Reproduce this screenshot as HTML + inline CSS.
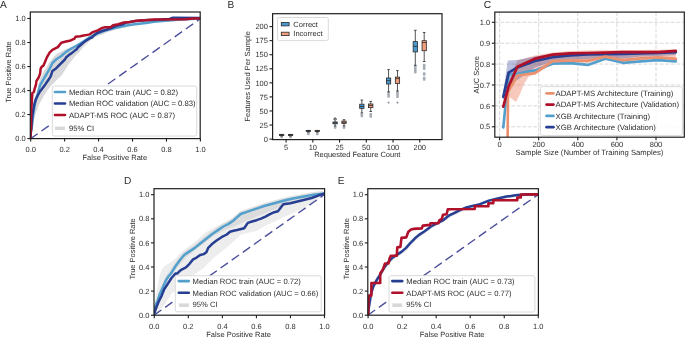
<!DOCTYPE html>
<html><head><meta charset="utf-8"><style>
html,body{margin:0;padding:0;background:#fff;}
body{width:685px;height:338px;overflow:hidden;}
svg{display:block;will-change:transform;text-rendering:geometricPrecision;font-family:"Liberation Sans",sans-serif;}
</style></head><body>
<svg width="685" height="338" viewBox="0 0 685 338">
<rect width="685" height="338" fill="#fff"/>
<text x="-0.10" y="7.60" font-size="10.2" text-anchor="start" fill="#2e2e2e">A</text>
<text x="227.60" y="7.60" font-size="10.2" text-anchor="start" fill="#2e2e2e">B</text>
<text x="483.80" y="7.60" font-size="10.2" text-anchor="start" fill="#2e2e2e">C</text>
<text x="124.00" y="183.80" font-size="10.2" text-anchor="start" fill="#2e2e2e">D</text>
<text x="337.80" y="183.80" font-size="10.2" text-anchor="start" fill="#2e2e2e">E</text>
<defs><clipPath id="clipA"><rect x="30.3" y="12.0" width="169.9" height="126.6"/></clipPath></defs>
<g clip-path="url(#clipA)">
<polygon points="30.30,138.60 30.80,125.00 31.60,114.00 32.80,106.00 34.60,99.00 36.60,93.00 40.00,78.20 44.50,70.50 48.90,63.10 53.00,57.50 57.80,53.30 62.00,51.00 66.60,48.90 71.00,47.00 75.50,45.30 80.00,43.50 84.40,41.80 89.00,39.00 90.10,33.80 98.40,30.70 105.00,28.80 115.00,26.60 125.00,24.60 135.00,23.00 145.00,21.90 155.00,20.80 170.00,19.70 185.00,18.80 200.20,18.40 200.20,18.40 185.00,20.20 170.00,21.40 160.00,22.20 150.00,23.00 135.00,25.00 125.00,27.60 122.00,27.80 117.20,29.30 112.20,30.80 107.10,32.30 102.10,34.40 98.00,35.90 94.40,37.80 90.60,40.60 86.80,43.50 83.00,47.30 79.30,52.00 75.50,55.80 71.70,60.50 67.90,65.20 62.00,75.00 57.80,79.10 54.00,82.70 50.70,86.20 47.00,91.00 43.50,96.50 38.80,105.00 35.80,113.00 33.40,121.00 31.60,130.00 30.30,138.60" fill="#d9d9db" stroke="none"/>
<line x1="30.30" y1="138.90" x2="200.00" y2="19.00" stroke="#4d509b" stroke-width="1.4" stroke-dasharray="9 4.6"/>
<polyline points="30.30,138.60 30.90,132.00 31.70,128.00 33.20,115.00 34.70,104.70 36.00,99.00 37.40,95.00 40.00,85.30 43.60,79.10 46.30,74.50 48.90,70.20 52.40,63.10 56.00,59.50 61.30,56.00 66.00,51.90 70.70,49.03 75.50,46.25 80.20,43.62 84.90,40.56 89.70,37.31 94.40,35.12 96.50,33.80 99.50,32.60 102.40,31.50 105.00,30.50 111.00,29.00 117.20,27.40 120.00,26.90 126.50,25.60 133.00,24.60 139.50,23.70 146.00,23.00 153.80,21.80 168.40,20.60 180.00,19.50 200.20,18.40" fill="none" stroke="#54a0cd" stroke-width="2.5" stroke-linejoin="round" stroke-linecap="round"/>
<polyline points="30.30,138.60 30.80,132.00 31.30,128.00 32.40,115.00 33.90,106.10 35.00,102.00 36.10,98.70 38.00,95.00 40.00,91.50 45.30,84.40 48.00,80.50 50.70,76.40 52.40,71.10 56.00,68.40 59.50,64.90 64.90,59.50 66.00,57.55 68.80,55.06 71.70,53.13 74.50,50.86 76.40,49.49 78.30,47.04 81.20,44.45 84.90,41.35 88.70,38.99 92.50,37.10 93.10,36.10 97.10,33.10 102.10,31.00 107.10,29.50 112.20,27.50 117.20,25.50 122.00,24.50 126.50,22.40 131.10,21.80 136.30,21.10 141.50,20.50 147.30,20.10 153.80,19.89 169.50,19.00 172.40,17.80 200.20,17.90" fill="none" stroke="#263f92" stroke-width="2.5" stroke-linejoin="round" stroke-linecap="round"/>
<polyline points="30.30,138.60 31.00,128.00 31.20,110.00 31.40,107.60 32.40,92.80 33.90,92.10 34.70,88.40 35.60,86.00 36.10,83.90 36.40,81.20 38.70,77.40 40.10,73.60 40.60,68.90 41.80,66.60 43.50,65.60 45.30,61.30 47.10,56.90 49.80,52.40 52.40,49.80 57.80,47.10 61.30,42.70 66.00,41.50 70.70,40.48 74.50,38.71 75.50,36.76 80.20,36.16 84.90,35.35 89.70,34.35 92.90,32.10 97.70,30.30 102.40,27.90 105.00,27.30 110.50,27.30 113.10,25.30 118.30,24.20 123.90,22.40 130.40,21.90 134.30,21.10 139.50,20.60 146.00,20.20 154.00,19.60 186.00,19.20 193.00,18.60 200.20,18.40" fill="none" stroke="#b0102a" stroke-width="2.5" stroke-linejoin="round" stroke-linecap="round"/>
</g>
<rect x="52.30" y="86.00" width="144.40" height="50.00" rx="1.8" ry="1.8" fill="#ffffff" fill-opacity="1" stroke="#d6d6d6" stroke-width="0.9"/>
<line x1="55.00" y1="92.00" x2="65.00" y2="92.00" stroke="#54a0cd" stroke-width="2.6" stroke-linecap="round"/>
<line x1="55.00" y1="103.50" x2="65.00" y2="103.50" stroke="#263f92" stroke-width="2.6" stroke-linecap="round"/>
<line x1="55.00" y1="115.00" x2="65.00" y2="115.00" stroke="#b0102a" stroke-width="2.6" stroke-linecap="round"/>
<rect x="55.1" y="126.6" width="9.8" height="3.5" fill="#d8d8da"/>
<text x="68.90" y="94.70" font-size="7.72" text-anchor="start" fill="#2e2e2e">Median ROC train (AUC = 0.82)</text>
<text x="68.90" y="106.20" font-size="7.72" text-anchor="start" fill="#2e2e2e">Median ROC validation (AUC = 0.83)</text>
<text x="68.90" y="117.70" font-size="7.72" text-anchor="start" fill="#2e2e2e">ADAPT-MS ROC (AUC = 0.87)</text>
<text x="68.90" y="131.10" font-size="7.72" text-anchor="start" fill="#2e2e2e">95% CI</text>
<rect x="30.30" y="12.00" width="169.90" height="126.60" fill="none" stroke="#1e1e1e" stroke-width="1.2"/>
<line x1="27.30" y1="138.60" x2="30.30" y2="138.60" stroke="#1e1e1e" stroke-width="1.1"/>
<text x="25.70" y="141.25" font-size="7.5" text-anchor="end" fill="#2e2e2e">0.0</text>
<line x1="27.30" y1="114.58" x2="30.30" y2="114.58" stroke="#1e1e1e" stroke-width="1.1"/>
<text x="25.70" y="117.23" font-size="7.5" text-anchor="end" fill="#2e2e2e">0.2</text>
<line x1="27.30" y1="90.56" x2="30.30" y2="90.56" stroke="#1e1e1e" stroke-width="1.1"/>
<text x="25.70" y="93.21" font-size="7.5" text-anchor="end" fill="#2e2e2e">0.4</text>
<line x1="27.30" y1="66.54" x2="30.30" y2="66.54" stroke="#1e1e1e" stroke-width="1.1"/>
<text x="25.70" y="69.19" font-size="7.5" text-anchor="end" fill="#2e2e2e">0.6</text>
<line x1="27.30" y1="42.52" x2="30.30" y2="42.52" stroke="#1e1e1e" stroke-width="1.1"/>
<text x="25.70" y="45.17" font-size="7.5" text-anchor="end" fill="#2e2e2e">0.8</text>
<line x1="27.30" y1="18.50" x2="30.30" y2="18.50" stroke="#1e1e1e" stroke-width="1.1"/>
<text x="25.70" y="21.15" font-size="7.5" text-anchor="end" fill="#2e2e2e">1.0</text>
<line x1="30.70" y1="138.60" x2="30.70" y2="141.60" stroke="#1e1e1e" stroke-width="1.1"/>
<text x="30.70" y="151.50" font-size="7.5" text-anchor="middle" fill="#2e2e2e">0.0</text>
<line x1="64.64" y1="138.60" x2="64.64" y2="141.60" stroke="#1e1e1e" stroke-width="1.1"/>
<text x="64.64" y="151.50" font-size="7.5" text-anchor="middle" fill="#2e2e2e">0.2</text>
<line x1="98.58" y1="138.60" x2="98.58" y2="141.60" stroke="#1e1e1e" stroke-width="1.1"/>
<text x="98.58" y="151.50" font-size="7.5" text-anchor="middle" fill="#2e2e2e">0.4</text>
<line x1="132.52" y1="138.60" x2="132.52" y2="141.60" stroke="#1e1e1e" stroke-width="1.1"/>
<text x="132.52" y="151.50" font-size="7.5" text-anchor="middle" fill="#2e2e2e">0.6</text>
<line x1="166.46" y1="138.60" x2="166.46" y2="141.60" stroke="#1e1e1e" stroke-width="1.1"/>
<text x="166.46" y="151.50" font-size="7.5" text-anchor="middle" fill="#2e2e2e">0.8</text>
<line x1="200.40" y1="138.60" x2="200.40" y2="141.60" stroke="#1e1e1e" stroke-width="1.1"/>
<text x="200.40" y="151.50" font-size="7.5" text-anchor="middle" fill="#2e2e2e">1.0</text>
<text x="114.80" y="160.30" font-size="7.5" text-anchor="middle" fill="#2e2e2e">False Positive Rate</text>
<text x="11.40" y="72.00" font-size="7.5" text-anchor="middle" fill="#2e2e2e" transform="rotate(-90 11.4 72.0)">True Positive Rate</text>
<rect x="280.35" y="136.00" width="2.6" height="2.20" fill="#a6acb3" rx="0.8"/>
<line x1="281.65" y1="134.40" x2="281.65" y2="134.40" stroke="#2a2a2a" stroke-width="0.8"/>
<line x1="281.65" y1="135.50" x2="281.65" y2="136.00" stroke="#2a2a2a" stroke-width="0.8"/>
<line x1="280.35" y1="134.40" x2="282.95" y2="134.40" stroke="#2a2a2a" stroke-width="0.8"/>
<line x1="280.35" y1="136.00" x2="282.95" y2="136.00" stroke="#2a2a2a" stroke-width="0.8"/>
<rect x="279.50" y="134.40" width="4.30" height="1.10" fill="#4a9ad0" stroke="#2a2a2a" stroke-width="0.8"/>
<line x1="279.50" y1="135.00" x2="283.80" y2="135.00" stroke="#2a2a2a" stroke-width="0.8"/>
<rect x="289.25" y="136.00" width="2.6" height="2.20" fill="#a6acb3" rx="0.8"/>
<line x1="290.55" y1="134.40" x2="290.55" y2="134.40" stroke="#2a2a2a" stroke-width="0.8"/>
<line x1="290.55" y1="135.50" x2="290.55" y2="136.00" stroke="#2a2a2a" stroke-width="0.8"/>
<line x1="289.25" y1="134.40" x2="291.85" y2="134.40" stroke="#2a2a2a" stroke-width="0.8"/>
<line x1="289.25" y1="136.00" x2="291.85" y2="136.00" stroke="#2a2a2a" stroke-width="0.8"/>
<rect x="288.40" y="134.40" width="4.30" height="1.10" fill="#f29e7c" stroke="#2a2a2a" stroke-width="0.8"/>
<line x1="288.40" y1="135.00" x2="292.70" y2="135.00" stroke="#2a2a2a" stroke-width="0.8"/>
<rect x="307.08" y="132.00" width="2.6" height="3.30" fill="#a6acb3" rx="0.8"/>
<line x1="308.38" y1="130.40" x2="308.38" y2="130.40" stroke="#2a2a2a" stroke-width="0.8"/>
<line x1="308.38" y1="131.50" x2="308.38" y2="132.00" stroke="#2a2a2a" stroke-width="0.8"/>
<line x1="307.08" y1="130.40" x2="309.68" y2="130.40" stroke="#2a2a2a" stroke-width="0.8"/>
<line x1="307.08" y1="132.00" x2="309.68" y2="132.00" stroke="#2a2a2a" stroke-width="0.8"/>
<rect x="306.23" y="130.40" width="4.30" height="1.10" fill="#4a9ad0" stroke="#2a2a2a" stroke-width="0.8"/>
<line x1="306.23" y1="131.00" x2="310.53" y2="131.00" stroke="#2a2a2a" stroke-width="0.8"/>
<rect x="315.98" y="132.00" width="2.6" height="3.30" fill="#a6acb3" rx="0.8"/>
<line x1="317.28" y1="130.40" x2="317.28" y2="130.40" stroke="#2a2a2a" stroke-width="0.8"/>
<line x1="317.28" y1="131.50" x2="317.28" y2="132.00" stroke="#2a2a2a" stroke-width="0.8"/>
<line x1="315.98" y1="130.40" x2="318.58" y2="130.40" stroke="#2a2a2a" stroke-width="0.8"/>
<line x1="315.98" y1="132.00" x2="318.58" y2="132.00" stroke="#2a2a2a" stroke-width="0.8"/>
<rect x="315.13" y="130.40" width="4.30" height="1.10" fill="#f29e7c" stroke="#2a2a2a" stroke-width="0.8"/>
<line x1="315.13" y1="131.00" x2="319.43" y2="131.00" stroke="#2a2a2a" stroke-width="0.8"/>
<rect x="333.81" y="126.20" width="2.6" height="2.60" fill="#a6acb3" rx="0.8"/>
<circle cx="335.11" cy="119.10" r="1.15" fill="none" stroke="#2a2a2a" stroke-width="1.0"/>
<line x1="335.11" y1="122.00" x2="335.11" y2="122.00" stroke="#2a2a2a" stroke-width="0.8"/>
<line x1="335.11" y1="123.80" x2="335.11" y2="126.00" stroke="#2a2a2a" stroke-width="0.8"/>
<line x1="333.81" y1="122.00" x2="336.41" y2="122.00" stroke="#2a2a2a" stroke-width="0.8"/>
<line x1="333.81" y1="126.00" x2="336.41" y2="126.00" stroke="#2a2a2a" stroke-width="0.8"/>
<rect x="332.96" y="122.00" width="4.30" height="1.80" fill="#4a9ad0" stroke="#2a2a2a" stroke-width="0.8"/>
<line x1="332.96" y1="122.90" x2="337.26" y2="122.90" stroke="#2a2a2a" stroke-width="0.8"/>
<rect x="342.71" y="126.00" width="2.6" height="2.90" fill="#a6acb3" rx="0.8"/>
<line x1="344.01" y1="119.70" x2="344.01" y2="121.10" stroke="#2a2a2a" stroke-width="0.8"/>
<line x1="344.01" y1="123.40" x2="344.01" y2="125.90" stroke="#2a2a2a" stroke-width="0.8"/>
<line x1="342.71" y1="119.70" x2="345.31" y2="119.70" stroke="#2a2a2a" stroke-width="0.8"/>
<line x1="342.71" y1="125.90" x2="345.31" y2="125.90" stroke="#2a2a2a" stroke-width="0.8"/>
<rect x="341.86" y="121.10" width="4.30" height="2.30" fill="#f29e7c" stroke="#2a2a2a" stroke-width="0.8"/>
<line x1="341.86" y1="122.30" x2="346.16" y2="122.30" stroke="#2a2a2a" stroke-width="0.8"/>
<rect x="360.54" y="113.60" width="2.6" height="3.60" fill="#a6acb3" rx="0.8"/>
<line x1="361.84" y1="100.00" x2="361.84" y2="104.20" stroke="#2a2a2a" stroke-width="0.8"/>
<line x1="361.84" y1="108.40" x2="361.84" y2="113.00" stroke="#2a2a2a" stroke-width="0.8"/>
<line x1="360.54" y1="100.00" x2="363.14" y2="100.00" stroke="#2a2a2a" stroke-width="0.8"/>
<line x1="360.54" y1="113.00" x2="363.14" y2="113.00" stroke="#2a2a2a" stroke-width="0.8"/>
<rect x="359.69" y="104.20" width="4.30" height="4.20" fill="#4a9ad0" stroke="#2a2a2a" stroke-width="0.8"/>
<line x1="359.69" y1="106.50" x2="363.99" y2="106.50" stroke="#2a2a2a" stroke-width="0.8"/>
<rect x="369.44" y="113.00" width="2.6" height="4.80" fill="#a6acb3" rx="0.8"/>
<line x1="370.74" y1="101.40" x2="370.74" y2="104.00" stroke="#2a2a2a" stroke-width="0.8"/>
<line x1="370.74" y1="107.60" x2="370.74" y2="111.50" stroke="#2a2a2a" stroke-width="0.8"/>
<line x1="369.44" y1="101.40" x2="372.04" y2="101.40" stroke="#2a2a2a" stroke-width="0.8"/>
<line x1="369.44" y1="111.50" x2="372.04" y2="111.50" stroke="#2a2a2a" stroke-width="0.8"/>
<rect x="368.59" y="104.00" width="4.30" height="3.60" fill="#f29e7c" stroke="#2a2a2a" stroke-width="0.8"/>
<line x1="368.59" y1="105.50" x2="372.89" y2="105.50" stroke="#2a2a2a" stroke-width="0.8"/>
<rect x="387.27" y="91.80" width="2.6" height="5.90" fill="#a6acb3" rx="0.8"/>
<path d="M387.37,102.60h2.4M388.57,101.40v2.4" stroke="#8f959c" stroke-width="0.8" fill="none"/>
<line x1="388.57" y1="69.60" x2="388.57" y2="78.00" stroke="#2a2a2a" stroke-width="0.8"/>
<line x1="388.57" y1="84.00" x2="388.57" y2="91.80" stroke="#2a2a2a" stroke-width="0.8"/>
<line x1="387.27" y1="69.60" x2="389.87" y2="69.60" stroke="#2a2a2a" stroke-width="0.8"/>
<line x1="387.27" y1="91.80" x2="389.87" y2="91.80" stroke="#2a2a2a" stroke-width="0.8"/>
<rect x="386.42" y="78.00" width="4.30" height="6.00" fill="#4a9ad0" stroke="#2a2a2a" stroke-width="0.8"/>
<line x1="386.42" y1="80.70" x2="390.72" y2="80.70" stroke="#2a2a2a" stroke-width="0.8"/>
<rect x="396.17" y="91.00" width="2.6" height="7.10" fill="#a6acb3" rx="0.8"/>
<path d="M396.27,102.60h2.4M397.47,101.40v2.4" stroke="#8f959c" stroke-width="0.8" fill="none"/>
<line x1="397.47" y1="70.60" x2="397.47" y2="77.10" stroke="#2a2a2a" stroke-width="0.8"/>
<line x1="397.47" y1="83.50" x2="397.47" y2="91.00" stroke="#2a2a2a" stroke-width="0.8"/>
<line x1="396.17" y1="70.60" x2="398.77" y2="70.60" stroke="#2a2a2a" stroke-width="0.8"/>
<line x1="396.17" y1="91.00" x2="398.77" y2="91.00" stroke="#2a2a2a" stroke-width="0.8"/>
<rect x="395.32" y="77.10" width="4.30" height="6.40" fill="#f29e7c" stroke="#2a2a2a" stroke-width="0.8"/>
<line x1="395.32" y1="78.60" x2="399.62" y2="78.60" stroke="#2a2a2a" stroke-width="0.8"/>
<rect x="414.00" y="65.30" width="2.6" height="8.10" fill="#a6acb3" rx="0.8"/>
<line x1="415.30" y1="30.30" x2="415.30" y2="41.60" stroke="#2a2a2a" stroke-width="0.8"/>
<line x1="415.30" y1="51.90" x2="415.30" y2="65.30" stroke="#2a2a2a" stroke-width="0.8"/>
<line x1="414.00" y1="30.30" x2="416.60" y2="30.30" stroke="#2a2a2a" stroke-width="0.8"/>
<line x1="414.00" y1="65.30" x2="416.60" y2="65.30" stroke="#2a2a2a" stroke-width="0.8"/>
<rect x="413.15" y="41.60" width="4.30" height="10.30" fill="#4a9ad0" stroke="#2a2a2a" stroke-width="0.8"/>
<line x1="413.15" y1="46.30" x2="417.45" y2="46.30" stroke="#2a2a2a" stroke-width="0.8"/>
<rect x="422.90" y="63.80" width="2.6" height="6.10" fill="#a6acb3" rx="0.8"/>
<rect x="422.90" y="72.20" width="2.6" height="3.50" fill="#a6acb3" rx="0.8"/>
<rect x="422.90" y="76.80" width="2.6" height="3.90" fill="#a6acb3" rx="0.8"/>
<line x1="424.20" y1="32.50" x2="424.20" y2="40.70" stroke="#2a2a2a" stroke-width="0.8"/>
<line x1="424.20" y1="50.70" x2="424.20" y2="61.50" stroke="#2a2a2a" stroke-width="0.8"/>
<line x1="422.90" y1="32.50" x2="425.50" y2="32.50" stroke="#2a2a2a" stroke-width="0.8"/>
<line x1="422.90" y1="61.50" x2="425.50" y2="61.50" stroke="#2a2a2a" stroke-width="0.8"/>
<rect x="422.05" y="40.70" width="4.30" height="10.00" fill="#f29e7c" stroke="#2a2a2a" stroke-width="0.8"/>
<line x1="422.05" y1="42.60" x2="426.35" y2="42.60" stroke="#2a2a2a" stroke-width="0.8"/>
<rect x="277.50" y="17.50" width="50.80" height="23.10" rx="1.8" ry="1.8" fill="#ffffff" fill-opacity="0.8" stroke="#d6d6d6" stroke-width="0.9"/>
<rect x="281.3" y="22.5" width="7.8" height="3.4" fill="#4a9ad0" stroke="#2a2a2a" stroke-width="0.8"/>
<rect x="281.3" y="32.2" width="7.8" height="3.4" fill="#f29e7c" stroke="#2a2a2a" stroke-width="0.8"/>
<text x="293.30" y="26.80" font-size="7.5" text-anchor="start" fill="#2e2e2e">Correct</text>
<text x="293.30" y="36.40" font-size="7.5" text-anchor="start" fill="#2e2e2e">Incorrect</text>
<rect x="272.60" y="13.70" width="169.40" height="125.90" fill="none" stroke="#1e1e1e" stroke-width="1.2"/>
<line x1="269.50" y1="139.10" x2="272.50" y2="139.10" stroke="#1e1e1e" stroke-width="1.1"/>
<text x="267.90" y="141.75" font-size="7.5" text-anchor="end" fill="#2e2e2e">0</text>
<line x1="269.50" y1="125.04" x2="272.50" y2="125.04" stroke="#1e1e1e" stroke-width="1.1"/>
<text x="267.90" y="127.69" font-size="7.5" text-anchor="end" fill="#2e2e2e">25</text>
<line x1="269.50" y1="110.97" x2="272.50" y2="110.97" stroke="#1e1e1e" stroke-width="1.1"/>
<text x="267.90" y="113.62" font-size="7.5" text-anchor="end" fill="#2e2e2e">50</text>
<line x1="269.50" y1="96.91" x2="272.50" y2="96.91" stroke="#1e1e1e" stroke-width="1.1"/>
<text x="267.90" y="99.56" font-size="7.5" text-anchor="end" fill="#2e2e2e">75</text>
<line x1="269.50" y1="82.85" x2="272.50" y2="82.85" stroke="#1e1e1e" stroke-width="1.1"/>
<text x="267.90" y="85.50" font-size="7.5" text-anchor="end" fill="#2e2e2e">100</text>
<line x1="269.50" y1="68.79" x2="272.50" y2="68.79" stroke="#1e1e1e" stroke-width="1.1"/>
<text x="267.90" y="71.44" font-size="7.5" text-anchor="end" fill="#2e2e2e">125</text>
<line x1="269.50" y1="54.72" x2="272.50" y2="54.72" stroke="#1e1e1e" stroke-width="1.1"/>
<text x="267.90" y="57.37" font-size="7.5" text-anchor="end" fill="#2e2e2e">150</text>
<line x1="269.50" y1="40.66" x2="272.50" y2="40.66" stroke="#1e1e1e" stroke-width="1.1"/>
<text x="267.90" y="43.31" font-size="7.5" text-anchor="end" fill="#2e2e2e">175</text>
<line x1="269.50" y1="26.60" x2="272.50" y2="26.60" stroke="#1e1e1e" stroke-width="1.1"/>
<text x="267.90" y="29.25" font-size="7.5" text-anchor="end" fill="#2e2e2e">200</text>
<line x1="286.10" y1="139.60" x2="286.10" y2="142.60" stroke="#1e1e1e" stroke-width="1.1"/>
<text x="286.10" y="149.60" font-size="7.5" text-anchor="middle" fill="#2e2e2e">5</text>
<line x1="312.83" y1="139.60" x2="312.83" y2="142.60" stroke="#1e1e1e" stroke-width="1.1"/>
<text x="312.83" y="149.60" font-size="7.5" text-anchor="middle" fill="#2e2e2e">10</text>
<line x1="339.56" y1="139.60" x2="339.56" y2="142.60" stroke="#1e1e1e" stroke-width="1.1"/>
<text x="339.56" y="149.60" font-size="7.5" text-anchor="middle" fill="#2e2e2e">25</text>
<line x1="366.29" y1="139.60" x2="366.29" y2="142.60" stroke="#1e1e1e" stroke-width="1.1"/>
<text x="366.29" y="149.60" font-size="7.5" text-anchor="middle" fill="#2e2e2e">50</text>
<line x1="393.02" y1="139.60" x2="393.02" y2="142.60" stroke="#1e1e1e" stroke-width="1.1"/>
<text x="393.02" y="149.60" font-size="7.5" text-anchor="middle" fill="#2e2e2e">100</text>
<line x1="419.75" y1="139.60" x2="419.75" y2="142.60" stroke="#1e1e1e" stroke-width="1.1"/>
<text x="419.75" y="149.60" font-size="7.5" text-anchor="middle" fill="#2e2e2e">200</text>
<text x="357.30" y="157.20" font-size="7.5" text-anchor="middle" fill="#2e2e2e">Requested Feature Count</text>
<text x="250.20" y="76.30" font-size="7.5" text-anchor="middle" fill="#2e2e2e" transform="rotate(-90 250.2 76.3)">Features Used Per Sample</text>
<line x1="499.60" y1="12.10" x2="499.60" y2="137.20" stroke="#d4d4d4" stroke-width="0.9" stroke-dasharray="3.85 1.65"/>
<line x1="538.70" y1="12.10" x2="538.70" y2="137.20" stroke="#d4d4d4" stroke-width="0.9" stroke-dasharray="3.85 1.65"/>
<line x1="577.80" y1="12.10" x2="577.80" y2="137.20" stroke="#d4d4d4" stroke-width="0.9" stroke-dasharray="3.85 1.65"/>
<line x1="616.90" y1="12.10" x2="616.90" y2="137.20" stroke="#d4d4d4" stroke-width="0.9" stroke-dasharray="3.85 1.65"/>
<line x1="656.00" y1="12.10" x2="656.00" y2="137.20" stroke="#d4d4d4" stroke-width="0.9" stroke-dasharray="3.85 1.65"/>
<line x1="494.80" y1="126.80" x2="684.30" y2="126.80" stroke="#d4d4d4" stroke-width="0.9" stroke-dasharray="3.85 1.65"/>
<line x1="494.80" y1="105.90" x2="684.30" y2="105.90" stroke="#d4d4d4" stroke-width="0.9" stroke-dasharray="3.85 1.65"/>
<line x1="494.80" y1="85.00" x2="684.30" y2="85.00" stroke="#d4d4d4" stroke-width="0.9" stroke-dasharray="3.85 1.65"/>
<line x1="494.80" y1="64.10" x2="684.30" y2="64.10" stroke="#d4d4d4" stroke-width="0.9" stroke-dasharray="3.85 1.65"/>
<line x1="494.80" y1="43.20" x2="684.30" y2="43.20" stroke="#d4d4d4" stroke-width="0.9" stroke-dasharray="3.85 1.65"/>
<line x1="494.80" y1="22.30" x2="684.30" y2="22.30" stroke="#d4d4d4" stroke-width="0.9" stroke-dasharray="3.85 1.65"/>
<defs><clipPath id="clipC"><rect x="494.8" y="12.1" width="189.5" height="125.1"/></clipPath></defs>
<g clip-path="url(#clipC)">
<polygon points="508.00,92.00 509.50,80.00 512.00,72.00 517.40,60.50 535.00,55.50 552.60,52.50 570.20,51.00 587.80,50.50 605.40,50.30 623.00,50.00 640.60,50.00 658.20,49.80 675.80,49.50 675.80,60.50 658.20,59.50 640.60,60.00 623.00,62.00 605.40,59.00 587.80,63.00 570.20,63.00 552.60,64.00 535.00,74.50 528.80,76.50 524.00,84.00 520.00,94.00 516.00,102.00 509.50,97.00 508.00,92.00" fill="#ec8f74" stroke="none" fill-opacity="0.48"/>
<polygon points="503.30,100.00 502.50,97.00 507.80,60.50 517.40,60.00 535.00,56.50 552.60,54.00 570.20,53.20 587.80,52.80 605.40,52.50 623.00,52.00 640.60,51.80 658.20,51.50 675.80,50.50 675.80,55.00 658.20,56.00 640.60,56.50 623.00,58.50 605.40,57.50 587.80,59.00 570.20,59.50 552.60,61.50 535.00,67.50 517.40,80.00 508.60,84.00 503.30,100.00" fill="#2f3f9a" stroke="none" fill-opacity="0.33"/>
<polyline points="503.30,127.30 508.60,74.50 517.40,73.90 535.00,70.40 552.60,63.70 570.20,63.10 587.80,64.90 605.40,58.70 623.00,62.80 640.60,61.40 658.20,60.10 675.80,61.40" fill="none" stroke="#54a0cd" stroke-width="2.7" stroke-linejoin="round" stroke-linecap="round"/>
<polyline points="503.30,96.90 508.60,72.70 517.40,67.40 535.00,61.00 552.60,57.20 570.20,55.40 587.80,54.50 605.40,54.20 623.00,53.80 640.60,53.40 658.20,53.00 675.80,52.10" fill="none" stroke="#263f92" stroke-width="2.7" stroke-linejoin="round" stroke-linecap="round"/>
<polyline points="507.60,145.00 508.00,92.00 517.40,75.50 535.00,73.20 552.60,61.10 570.20,60.60 587.80,60.70 605.40,56.60 623.00,60.20 640.60,58.30 658.20,57.40 675.80,58.80" fill="none" stroke="#ea916f" stroke-width="2.7" stroke-linejoin="round" stroke-linecap="round"/>
<polyline points="503.30,106.60 508.60,86.50 517.40,66.80 535.00,58.60 552.60,54.60 570.20,53.30 587.80,53.00 605.40,52.60 623.00,52.00 640.60,52.10 658.20,52.10 675.80,50.80" fill="none" stroke="#b0102a" stroke-width="2.7" stroke-linejoin="round" stroke-linecap="round"/>
</g>
<rect x="540.40" y="86.60" width="142.00" height="48.80" rx="1.8" ry="1.8" fill="#ffffff" fill-opacity="0.8" stroke="#d6d6d6" stroke-width="0.9"/>
<line x1="546.60" y1="93.30" x2="553.40" y2="93.30" stroke="#ea916f" stroke-width="2.8" stroke-linecap="round"/>
<line x1="546.60" y1="104.60" x2="553.40" y2="104.60" stroke="#b0102a" stroke-width="2.8" stroke-linecap="round"/>
<line x1="546.60" y1="115.90" x2="553.40" y2="115.90" stroke="#54a0cd" stroke-width="2.8" stroke-linecap="round"/>
<line x1="546.60" y1="127.20" x2="553.40" y2="127.20" stroke="#263f92" stroke-width="2.8" stroke-linecap="round"/>
<text x="555.60" y="96.00" font-size="7.75" text-anchor="start" fill="#2e2e2e">ADAPT-MS Architecture (Training)</text>
<text x="555.60" y="107.30" font-size="7.75" text-anchor="start" fill="#2e2e2e">ADAPT-MS Architecture (Validation)</text>
<text x="555.60" y="118.60" font-size="7.75" text-anchor="start" fill="#2e2e2e">XGB Architecture (Training)</text>
<text x="555.60" y="129.90" font-size="7.75" text-anchor="start" fill="#2e2e2e">XGB Architecture (Validation)</text>
<rect x="494.80" y="12.10" width="189.50" height="125.10" fill="none" stroke="#1e1e1e" stroke-width="1.2"/>
<line x1="491.80" y1="126.80" x2="494.80" y2="126.80" stroke="#1e1e1e" stroke-width="1.1"/>
<text x="490.20" y="129.45" font-size="7.5" text-anchor="end" fill="#2e2e2e">0.5</text>
<line x1="491.80" y1="105.90" x2="494.80" y2="105.90" stroke="#1e1e1e" stroke-width="1.1"/>
<text x="490.20" y="108.55" font-size="7.5" text-anchor="end" fill="#2e2e2e">0.6</text>
<line x1="491.80" y1="85.00" x2="494.80" y2="85.00" stroke="#1e1e1e" stroke-width="1.1"/>
<text x="490.20" y="87.65" font-size="7.5" text-anchor="end" fill="#2e2e2e">0.7</text>
<line x1="491.80" y1="64.10" x2="494.80" y2="64.10" stroke="#1e1e1e" stroke-width="1.1"/>
<text x="490.20" y="66.75" font-size="7.5" text-anchor="end" fill="#2e2e2e">0.8</text>
<line x1="491.80" y1="43.20" x2="494.80" y2="43.20" stroke="#1e1e1e" stroke-width="1.1"/>
<text x="490.20" y="45.85" font-size="7.5" text-anchor="end" fill="#2e2e2e">0.9</text>
<line x1="491.80" y1="22.30" x2="494.80" y2="22.30" stroke="#1e1e1e" stroke-width="1.1"/>
<text x="490.20" y="24.95" font-size="7.5" text-anchor="end" fill="#2e2e2e">1.0</text>
<line x1="499.60" y1="137.20" x2="499.60" y2="140.20" stroke="#1e1e1e" stroke-width="1.1"/>
<text x="499.60" y="146.60" font-size="7.5" text-anchor="middle" fill="#2e2e2e">0</text>
<line x1="538.70" y1="137.20" x2="538.70" y2="140.20" stroke="#1e1e1e" stroke-width="1.1"/>
<text x="538.70" y="146.60" font-size="7.5" text-anchor="middle" fill="#2e2e2e">200</text>
<line x1="577.80" y1="137.20" x2="577.80" y2="140.20" stroke="#1e1e1e" stroke-width="1.1"/>
<text x="577.80" y="146.60" font-size="7.5" text-anchor="middle" fill="#2e2e2e">400</text>
<line x1="616.90" y1="137.20" x2="616.90" y2="140.20" stroke="#1e1e1e" stroke-width="1.1"/>
<text x="616.90" y="146.60" font-size="7.5" text-anchor="middle" fill="#2e2e2e">600</text>
<line x1="656.00" y1="137.20" x2="656.00" y2="140.20" stroke="#1e1e1e" stroke-width="1.1"/>
<text x="656.00" y="146.60" font-size="7.5" text-anchor="middle" fill="#2e2e2e">800</text>
<text x="589.50" y="154.90" font-size="7.7" text-anchor="middle" fill="#2e2e2e">Sample Size (Number of Training Samples)</text>
<text x="479.00" y="74.80" font-size="7.5" text-anchor="middle" fill="#2e2e2e" transform="rotate(-90 479.0 74.8)">AUC Score</text>
<defs><clipPath id="clipD"><rect x="154.0" y="188.7" width="170.6" height="126.5"/></clipPath></defs>
<g clip-path="url(#clipD)">
<polygon points="154.00,315.20 154.60,306.00 156.00,296.00 158.00,284.00 160.00,274.00 162.00,269.00 164.00,266.50 169.00,263.50 174.00,260.00 179.00,254.50 185.70,248.70 196.30,240.80 205.20,232.50 217.60,225.70 230.00,219.40 238.90,213.50 247.70,209.80 259.60,206.10 274.30,201.60 290.00,198.00 306.60,195.50 324.20,193.60 324.20,194.20 322.40,195.30 318.80,198.90 309.90,204.20 301.00,209.50 288.60,214.90 279.70,219.30 265.50,225.50 256.60,230.90 240.70,234.40 232.00,243.00 223.00,250.50 214.10,257.60 203.40,268.30 192.80,275.50 184.00,283.00 175.20,290.90 170.90,294.30 165.70,302.90 158.90,311.50 154.00,315.20" fill="#ededed" stroke="none"/>
<polygon points="154.00,315.20 154.00,309.90 154.40,303.40 156.80,297.80 158.70,291.90 160.70,287.40 162.60,282.90 164.70,278.30 167.30,273.90 169.90,271.00 174.30,263.90 178.80,257.70 183.20,252.40 188.50,248.80 193.90,245.30 198.30,241.70 202.70,238.20 207.20,234.60 211.60,231.10 217.00,227.50 222.30,223.90 227.60,221.30 232.90,217.70 233.40,217.00 239.70,211.40 246.70,209.00 255.60,206.00 264.00,203.20 273.40,200.70 282.30,198.10 291.00,196.20 300.00,194.50 307.00,193.20 314.30,191.80 323.20,191.00 324.20,194.20 312.00,197.50 301.00,199.80 283.30,206.00 265.50,213.10 247.80,220.20 232.00,227.50 222.10,231.20 212.30,236.80 203.40,244.00 194.50,250.50 185.70,257.60 178.60,266.00 171.70,274.00 164.90,284.50 159.70,297.00 155.40,309.00 154.00,315.20" fill="#d6d6d6" stroke="none" fill-opacity="0.75"/>
<line x1="154.00" y1="315.20" x2="324.20" y2="194.70" stroke="#4d509b" stroke-width="1.4" stroke-dasharray="9 4.6"/>
<polyline points="154.00,315.20 154.10,312.50 155.40,306.00 157.80,300.40 159.70,294.50 161.70,290.00 163.60,285.50 165.70,280.90 168.30,276.50 170.90,273.60 175.30,266.50 179.80,260.30 184.20,255.00 189.50,251.40 194.90,247.90 199.30,244.30 203.70,240.80 208.20,237.20 212.60,233.70 218.00,230.10 223.30,226.50 228.60,223.90 233.90,220.30 234.40,219.60 240.70,214.00 247.70,211.60 256.60,208.60 265.00,205.80 274.40,203.30 283.30,200.70 292.00,198.80 301.00,197.10 308.00,195.80 315.30,194.40 324.20,193.60" fill="none" stroke="#54a0cd" stroke-width="2.5" stroke-linejoin="round" stroke-linecap="round"/>
<polyline points="154.00,315.20 154.30,313.00 156.50,307.00 159.00,300.80 161.60,295.80 164.20,289.20 167.00,285.00 169.60,281.00 171.50,278.00 173.50,275.70 175.40,273.60 177.10,273.60 180.70,270.10 186.00,267.40 189.50,263.80 193.10,259.40 196.60,257.60 200.20,255.00 203.70,254.10 206.40,252.30 208.20,247.90 211.70,244.30 216.20,240.80 221.50,237.20 226.80,234.50 230.00,231.70 233.50,230.80 237.10,230.00 244.20,228.20 247.80,222.90 252.00,221.50 256.60,220.20 261.00,218.60 265.50,216.60 270.00,214.20 274.40,212.20 278.00,211.30 283.30,204.20 290.40,203.30 297.50,201.50 304.60,199.80 311.70,198.00 318.80,195.30 324.20,193.80" fill="none" stroke="#263f92" stroke-width="2.5" stroke-linejoin="round" stroke-linecap="round"/>
</g>
<rect x="175.30" y="275.80" width="145.90" height="36.00" rx="1.8" ry="1.8" fill="#ffffff" fill-opacity="1" stroke="#d6d6d6" stroke-width="0.9"/>
<line x1="178.80" y1="281.10" x2="188.80" y2="281.10" stroke="#54a0cd" stroke-width="2.6" stroke-linecap="round"/>
<line x1="178.80" y1="292.80" x2="188.80" y2="292.80" stroke="#263f92" stroke-width="2.6" stroke-linecap="round"/>
<rect x="179.0" y="303.4" width="9.8" height="3.6" fill="#d8d8da"/>
<text x="192.60" y="284.00" font-size="7.66" text-anchor="start" fill="#2e2e2e">Median ROC train (AUC = 0.72)</text>
<text x="192.60" y="295.70" font-size="7.66" text-anchor="start" fill="#2e2e2e">Median ROC validation (AUC = 0.66)</text>
<text x="192.60" y="307.40" font-size="7.66" text-anchor="start" fill="#2e2e2e">95% CI</text>
<rect x="154.00" y="188.70" width="170.60" height="126.50" fill="none" stroke="#1e1e1e" stroke-width="1.2"/>
<line x1="151.00" y1="315.20" x2="154.00" y2="315.20" stroke="#1e1e1e" stroke-width="1.1"/>
<text x="149.40" y="317.85" font-size="7.5" text-anchor="end" fill="#2e2e2e">0.0</text>
<line x1="151.00" y1="291.10" x2="154.00" y2="291.10" stroke="#1e1e1e" stroke-width="1.1"/>
<text x="149.40" y="293.75" font-size="7.5" text-anchor="end" fill="#2e2e2e">0.2</text>
<line x1="151.00" y1="267.00" x2="154.00" y2="267.00" stroke="#1e1e1e" stroke-width="1.1"/>
<text x="149.40" y="269.65" font-size="7.5" text-anchor="end" fill="#2e2e2e">0.4</text>
<line x1="151.00" y1="242.90" x2="154.00" y2="242.90" stroke="#1e1e1e" stroke-width="1.1"/>
<text x="149.40" y="245.55" font-size="7.5" text-anchor="end" fill="#2e2e2e">0.6</text>
<line x1="151.00" y1="218.80" x2="154.00" y2="218.80" stroke="#1e1e1e" stroke-width="1.1"/>
<text x="149.40" y="221.45" font-size="7.5" text-anchor="end" fill="#2e2e2e">0.8</text>
<line x1="151.00" y1="194.70" x2="154.00" y2="194.70" stroke="#1e1e1e" stroke-width="1.1"/>
<text x="149.40" y="197.35" font-size="7.5" text-anchor="end" fill="#2e2e2e">1.0</text>
<line x1="154.30" y1="315.20" x2="154.30" y2="318.20" stroke="#1e1e1e" stroke-width="1.1"/>
<text x="154.30" y="328.50" font-size="7.5" text-anchor="middle" fill="#2e2e2e">0.0</text>
<line x1="188.34" y1="315.20" x2="188.34" y2="318.20" stroke="#1e1e1e" stroke-width="1.1"/>
<text x="188.34" y="328.50" font-size="7.5" text-anchor="middle" fill="#2e2e2e">0.2</text>
<line x1="222.38" y1="315.20" x2="222.38" y2="318.20" stroke="#1e1e1e" stroke-width="1.1"/>
<text x="222.38" y="328.50" font-size="7.5" text-anchor="middle" fill="#2e2e2e">0.4</text>
<line x1="256.42" y1="315.20" x2="256.42" y2="318.20" stroke="#1e1e1e" stroke-width="1.1"/>
<text x="256.42" y="328.50" font-size="7.5" text-anchor="middle" fill="#2e2e2e">0.6</text>
<line x1="290.46" y1="315.20" x2="290.46" y2="318.20" stroke="#1e1e1e" stroke-width="1.1"/>
<text x="290.46" y="328.50" font-size="7.5" text-anchor="middle" fill="#2e2e2e">0.8</text>
<line x1="324.50" y1="315.20" x2="324.50" y2="318.20" stroke="#1e1e1e" stroke-width="1.1"/>
<text x="324.50" y="328.50" font-size="7.5" text-anchor="middle" fill="#2e2e2e">1.0</text>
<text x="238.60" y="337.30" font-size="7.5" text-anchor="middle" fill="#2e2e2e">False Positive Rate</text>
<text x="134.80" y="248.90" font-size="7.5" text-anchor="middle" fill="#2e2e2e" transform="rotate(-90 134.8 248.9)">True Positive Rate</text>
<defs><clipPath id="clipE"><rect x="367.8" y="188.7" width="170.6" height="126.5"/></clipPath></defs>
<g clip-path="url(#clipE)">
<polygon points="366.80,314.20 367.40,309.00 368.60,301.70 370.00,293.10 372.10,286.00 374.90,280.40 377.00,277.00 379.20,273.60 382.90,266.90 387.40,261.00 391.80,256.50 396.20,253.60 400.70,250.60 405.10,246.90 409.50,241.80 414.00,237.30 418.40,233.60 422.90,230.70 427.00,227.70 429.90,225.40 435.80,222.40 441.80,219.40 447.70,214.70 453.60,211.80 459.50,208.80 465.40,206.40 471.30,205.00 477.30,203.60 479.00,203.20 487.90,199.60 496.70,197.40 505.60,195.60 514.50,194.30 523.40,193.60 537.00,193.20 539.30,195.80 525.70,196.20 516.80,196.90 507.90,198.20 499.00,200.00 490.20,202.20 481.30,205.80 479.60,206.20 473.60,207.60 467.70,209.00 461.80,211.40 455.90,214.40 450.00,217.30 444.10,222.00 438.10,225.00 432.20,228.00 429.30,230.30 425.20,233.30 420.70,236.20 416.30,239.90 411.80,244.40 407.40,249.50 403.00,253.20 398.50,256.20 394.10,259.10 389.70,263.60 385.20,269.50 381.50,276.20 379.30,279.60 377.20,283.00 374.40,288.60 372.30,295.70 370.90,304.30 369.70,311.60 369.10,316.80" fill="#e4e4e6" stroke="none"/>
<line x1="367.80" y1="315.20" x2="538.00" y2="194.70" stroke="#4d509b" stroke-width="1.4" stroke-dasharray="9 4.6"/>
<polyline points="367.80,315.20 368.40,310.00 369.60,302.70 371.00,294.10 373.10,287.00 375.90,281.40 378.00,278.00 380.20,274.60 383.90,267.90 388.40,262.00 392.80,257.50 397.20,254.60 401.70,251.60 406.10,247.90 410.50,242.80 415.00,238.30 419.40,234.60 423.90,231.70 428.00,228.70 430.90,226.40 436.80,223.40 442.80,220.40 448.70,215.70 454.60,212.80 460.50,209.80 466.40,207.40 472.30,206.00 478.30,204.60 480.00,204.20 488.90,200.60 497.70,198.40 506.60,196.60 515.50,195.30 524.40,194.60 538.00,194.20" fill="none" stroke="#263f92" stroke-width="2.5" stroke-linejoin="round" stroke-linecap="round"/>
<polyline points="367.80,315.20 368.30,314.00 368.60,298.00 369.00,295.60 371.40,295.60 371.40,283.00 380.20,283.00 380.20,273.50 383.00,269.50 383.80,267.00 385.00,263.50 388.50,263.50 389.70,258.00 390.90,255.70 396.80,255.70 397.30,247.40 400.40,246.90 401.50,237.90 406.30,237.40 408.20,232.00 411.00,229.60 413.40,228.90 421.70,228.40 422.90,225.60 430.00,224.90 430.50,223.20 438.30,223.20 439.50,220.10 441.80,219.00 443.00,214.70 446.60,214.20 447.80,209.30 474.70,209.00 474.70,206.30 488.40,206.30 488.40,203.30 493.30,203.30 493.30,200.20 517.30,200.20 517.30,197.50 520.80,197.50 520.80,194.50 538.40,194.40" fill="none" stroke="#b0102a" stroke-width="2.6" stroke-linejoin="round" stroke-linecap="round"/>
</g>
<rect x="389.00" y="275.70" width="145.90" height="36.30" rx="1.8" ry="1.8" fill="#ffffff" fill-opacity="1" stroke="#d6d6d6" stroke-width="0.9"/>
<line x1="392.30" y1="281.10" x2="402.30" y2="281.10" stroke="#263f92" stroke-width="2.6" stroke-linecap="round"/>
<line x1="392.30" y1="292.70" x2="402.30" y2="292.70" stroke="#b0102a" stroke-width="2.6" stroke-linecap="round"/>
<rect x="392.4" y="303.4" width="9.8" height="3.6" fill="#d8d8da"/>
<text x="406.30" y="284.00" font-size="7.66" text-anchor="start" fill="#2e2e2e">Median ROC train (AUC = 0.73)</text>
<text x="406.30" y="295.60" font-size="7.66" text-anchor="start" fill="#2e2e2e">ADAPT-MS ROC (AUC = 0.77)</text>
<text x="406.30" y="307.40" font-size="7.66" text-anchor="start" fill="#2e2e2e">95% CI</text>
<rect x="367.80" y="188.70" width="170.60" height="126.50" fill="none" stroke="#1e1e1e" stroke-width="1.2"/>
<line x1="364.80" y1="315.20" x2="367.80" y2="315.20" stroke="#1e1e1e" stroke-width="1.1"/>
<text x="363.20" y="317.85" font-size="7.5" text-anchor="end" fill="#2e2e2e">0.0</text>
<line x1="364.80" y1="291.10" x2="367.80" y2="291.10" stroke="#1e1e1e" stroke-width="1.1"/>
<text x="363.20" y="293.75" font-size="7.5" text-anchor="end" fill="#2e2e2e">0.2</text>
<line x1="364.80" y1="267.00" x2="367.80" y2="267.00" stroke="#1e1e1e" stroke-width="1.1"/>
<text x="363.20" y="269.65" font-size="7.5" text-anchor="end" fill="#2e2e2e">0.4</text>
<line x1="364.80" y1="242.90" x2="367.80" y2="242.90" stroke="#1e1e1e" stroke-width="1.1"/>
<text x="363.20" y="245.55" font-size="7.5" text-anchor="end" fill="#2e2e2e">0.6</text>
<line x1="364.80" y1="218.80" x2="367.80" y2="218.80" stroke="#1e1e1e" stroke-width="1.1"/>
<text x="363.20" y="221.45" font-size="7.5" text-anchor="end" fill="#2e2e2e">0.8</text>
<line x1="364.80" y1="194.70" x2="367.80" y2="194.70" stroke="#1e1e1e" stroke-width="1.1"/>
<text x="363.20" y="197.35" font-size="7.5" text-anchor="end" fill="#2e2e2e">1.0</text>
<line x1="368.10" y1="315.20" x2="368.10" y2="318.20" stroke="#1e1e1e" stroke-width="1.1"/>
<text x="368.10" y="328.50" font-size="7.5" text-anchor="middle" fill="#2e2e2e">0.0</text>
<line x1="402.14" y1="315.20" x2="402.14" y2="318.20" stroke="#1e1e1e" stroke-width="1.1"/>
<text x="402.14" y="328.50" font-size="7.5" text-anchor="middle" fill="#2e2e2e">0.2</text>
<line x1="436.18" y1="315.20" x2="436.18" y2="318.20" stroke="#1e1e1e" stroke-width="1.1"/>
<text x="436.18" y="328.50" font-size="7.5" text-anchor="middle" fill="#2e2e2e">0.4</text>
<line x1="470.22" y1="315.20" x2="470.22" y2="318.20" stroke="#1e1e1e" stroke-width="1.1"/>
<text x="470.22" y="328.50" font-size="7.5" text-anchor="middle" fill="#2e2e2e">0.6</text>
<line x1="504.26" y1="315.20" x2="504.26" y2="318.20" stroke="#1e1e1e" stroke-width="1.1"/>
<text x="504.26" y="328.50" font-size="7.5" text-anchor="middle" fill="#2e2e2e">0.8</text>
<line x1="538.30" y1="315.20" x2="538.30" y2="318.20" stroke="#1e1e1e" stroke-width="1.1"/>
<text x="538.30" y="328.50" font-size="7.5" text-anchor="middle" fill="#2e2e2e">1.0</text>
<text x="452.10" y="337.30" font-size="7.5" text-anchor="middle" fill="#2e2e2e">False Positive Rate</text>
<text x="348.90" y="248.90" font-size="7.5" text-anchor="middle" fill="#2e2e2e" transform="rotate(-90 348.9 248.9)">True Positive Rate</text>
</svg>
</body></html>
